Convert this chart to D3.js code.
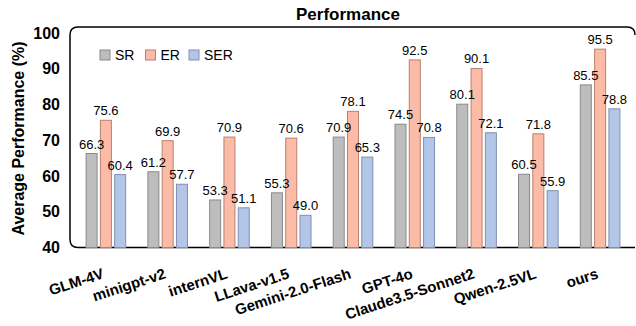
<!DOCTYPE html>
<html>
<head>
<meta charset="UTF-8">
<script src="https://d3js.org/d3.v7.min.js"></script>
<style>
  body { margin: 0; background: #fff; }
  text { font-family: "Comic Sans MS", "Liberation Sans", Arial, sans-serif; }
</style>
</head>
<body>
<svg width="636" height="326"></svg>
<script>
// data
const models = ["GLM-4V", "minigpt-v2", "internVL", "LLava-v1.5", "Gemini-2.0-Flash",
                "GPT-4o", "Claude3.5-Sonnet2", "Qwen-2.5VL", "ours"];
const series = ["SR", "ER", "SER"];
const srValues  = [66.3, 61.2, 53.3, 55.3, 70.9, 74.5, 80.1, 60.5, 85.5];
const erValues  = [75.6, 69.9, 70.9, 70.6, 78.1, 92.5, 90.1, 71.8, 95.5];
const serValues = [60.4, 57.7, 51.1, 49.0, 65.3, 70.8, 72.1, 55.9, 78.8];
const yTicks = [40, 50, 60, 70, 80, 90, 100];

const fills   = { SR: "#bdbdbd", ER: "#fcbba6", SER: "#b4c6e8" };
const strokes = { SR: "#8a8a8a", ER: "#b8806f", SER: "#7f8fb3" };

const svg = d3.select("svg");
const pLeft = 70, pRight = 635, pTop = 27, pBottom = 247.5;

const values = { SR: srValues, ER: erValues, SER: serValues };
const rows = models.map((m, i) => ({ model: m, vals: series.map(s => ({ key: s, value: values[s][i] })) }));

const x0 = d3.scaleBand().domain(models).range([75, 631]);
const bw = x0.bandwidth();
const x1 = d3.scaleBand().domain(series).range([bw / 2 - 19.8, bw / 2 + 19.8]).paddingInner(0.23);
const y = d3.scaleLinear().domain([40, 101.7]).range([pBottom, pTop]);

// title
svg.append("text")
  .attr("x", 348).attr("y", 20)
  .attr("text-anchor", "middle")
  .style("font-size", "17px").style("font-weight", "bold")
  .text("Performance");

// y axis label
svg.append("text")
  .attr("transform", `translate(24,${(42 + 235) / 2}) rotate(-90)`)
  .attr("text-anchor", "middle")
  .style("font-size", "16px").style("font-weight", "bold")
  .text("Average Performance (%)");

// y ticks
const yAxis = svg.append("g")
  .attr("transform", `translate(${pLeft},0)`)
  .call(d3.axisLeft(y).tickValues(yTicks).tickSize(0).tickPadding(10));
yAxis.select(".domain").remove();
yAxis.selectAll("text")
  .style("font-size", "16px").style("font-weight", "bold")
  .style("font-family", "'Comic Sans MS', 'Liberation Sans', Arial, sans-serif")
  .attr("fill", "#000");

// frame
svg.append("path")
  .attr("d", `M${pRight},${pBottom} L${pLeft + 8},${pBottom} Q${pLeft},${pBottom} ${pLeft},${pBottom - 8}
              L${pLeft},${pTop + 8} Q${pLeft},${pTop} ${pLeft + 8},${pTop} L${pRight - 8},${pTop} Q${pRight},${pTop} ${pRight},${pTop + 8}`)
  .attr("fill", "none").attr("stroke", "#000").attr("stroke-width", 1.5);

// bars
const groups = svg.selectAll(".grp")
  .data(rows).enter().append("g")
  .attr("class", "grp")
  .attr("transform", d => `translate(${x0(d.model)},0)`);

groups.selectAll("rect")
  .data(d => d.vals).enter().append("rect")
  .attr("x", d => x1(d.key))
  .attr("y", d => y(d.value))
  .attr("width", x1.bandwidth())
  .attr("height", d => y(40) - y(d.value))
  .attr("fill", d => fills[d.key])
  .attr("stroke", d => strokes[d.key])
  .attr("stroke-width", 1);

groups.selectAll(".val")
  .data(d => d.vals).enter().append("text")
  .attr("class", "val")
  .attr("x", d => x1(d.key) + x1.bandwidth() / 2)
  .attr("y", d => y(d.value) - 5)
  .attr("text-anchor", "middle")
  .style("font-size", "13px")
  .text(d => d.value.toFixed(1));

// x labels
svg.selectAll(".xlab")
  .data(models).enter().append("text")
  .attr("class", "xlab")
  .attr("transform", d => `translate(${x0(d) + bw / 2 - 1},278) rotate(-18)`)
  .attr("text-anchor", "end")
  .style("font-size", "15px").style("font-weight", "bold")
  .text(d => d);

// legend
const legend = svg.append("g").attr("transform", "translate(100,50)");
const legX = [0, 45.5, 89];
series.forEach((s, i) => {
  const g = legend.append("g").attr("transform", `translate(${legX[i]},0)`);
  g.append("rect").attr("width", 10).attr("height", 10)
    .attr("fill", fills[s]).attr("stroke", strokes[s]).attr("stroke-width", 1);
  g.append("text").attr("x", 15).attr("y", 10).style("font-size", "14px").text(s);
});
</script>
</body>
</html>
